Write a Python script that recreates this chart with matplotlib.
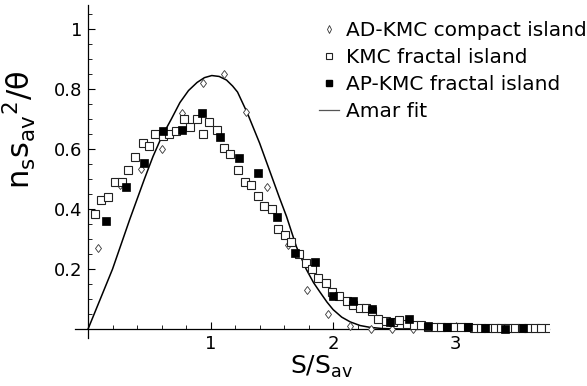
import matplotlib
matplotlib.use("Agg")
import matplotlib.pyplot as plt
from matplotlib.ticker import MultipleLocator, FixedLocator
from matplotlib.lines import Line2D

# AD-KMC compact island (open diamonds)
ad_x = [0.08, 0.26, 0.43, 0.60, 0.77, 0.94, 1.11, 1.29, 1.46, 1.63, 1.79, 1.96,
        2.14, 2.31, 2.48, 2.65]
ad_y = [0.27, 0.48, 0.535, 0.60, 0.72, 0.82, 0.85, 0.725, 0.475, 0.28, 0.13, 0.05,
        0.012, 0.002, 0.002, 0.002]

# KMC fractal island (open squares)
kmc_x = [0.057, 0.11, 0.16, 0.22, 0.28, 0.33, 0.38, 0.45, 0.50, 0.55, 0.61, 0.66,
         0.72, 0.78, 0.83, 0.89, 0.94, 0.99, 1.05, 1.11, 1.16, 1.22, 1.28, 1.33,
         1.39, 1.44, 1.50, 1.55, 1.61, 1.66, 1.72, 1.78, 1.83, 1.88, 1.94, 1.99,
         2.05, 2.11, 2.16, 2.22, 2.27, 2.32, 2.37, 2.43, 2.49, 2.54, 2.60, 2.66,
         2.72, 2.77, 2.83, 2.88, 2.93, 2.99, 3.04, 3.10, 3.15, 3.21, 3.26, 3.32,
         3.37, 3.43, 3.48, 3.54, 3.59, 3.65, 3.70, 3.76]
kmc_y = [0.385, 0.43, 0.44, 0.49, 0.49, 0.53, 0.575, 0.62, 0.61, 0.65, 0.645, 0.65,
         0.66, 0.70, 0.675, 0.70, 0.65, 0.69, 0.665, 0.605, 0.585, 0.53, 0.49, 0.48,
         0.445, 0.41, 0.40, 0.335, 0.315, 0.29, 0.25, 0.22, 0.20, 0.17, 0.155, 0.125,
         0.11, 0.095, 0.08, 0.07, 0.07, 0.06, 0.035, 0.028, 0.024, 0.03, 0.018, 0.014,
         0.013, 0.008, 0.008, 0.008, 0.007, 0.007, 0.006, 0.006, 0.005, 0.005, 0.005, 0.004,
         0.004, 0.004, 0.003, 0.003, 0.003, 0.003, 0.003, 0.003]

# AP-KMC fractal island (filled squares)
ap_x = [0.15, 0.31, 0.46, 0.61, 0.77, 0.93, 1.08, 1.23, 1.39, 1.54, 1.69, 1.85,
        2.00, 2.16, 2.32, 2.46, 2.62, 2.77, 2.93, 3.10, 3.24, 3.40, 3.55]
ap_y = [0.36, 0.475, 0.555, 0.66, 0.665, 0.72, 0.64, 0.57, 0.52, 0.375, 0.255, 0.225,
        0.11, 0.095, 0.068, 0.025, 0.035, 0.01, 0.007, 0.006, 0.004, 0.002, 0.003]

# Amar fit
fit_x = [0.0, 0.10, 0.20, 0.34, 0.46, 0.53, 0.60, 0.68, 0.75, 0.82, 0.89, 0.95,
         1.01, 1.07, 1.13, 1.18, 1.22, 1.30, 1.40, 1.48, 1.56, 1.62, 1.70, 1.78,
         1.84, 1.89, 1.95, 2.00, 2.07, 2.14, 2.22, 2.30, 2.40, 2.60, 3.00, 3.76]
fit_y = [0.0, 0.10, 0.20, 0.365, 0.50, 0.575, 0.64, 0.70, 0.755, 0.795, 0.822, 0.838,
         0.845, 0.842, 0.83, 0.81, 0.79, 0.72, 0.62, 0.53, 0.44, 0.375, 0.275, 0.20,
         0.155, 0.125, 0.09, 0.065, 0.04, 0.024, 0.012, 0.006, 0.002, 0.0, 0.0, 0.0]

y_ticks = [0.2, 0.4, 0.6, 0.8, 1.0]
y_labels = ["0.2", "0.4", "0.6", "0.8", "1"]
x_ticks = [1, 2, 3]
x_labels = ["1", "2", "3"]
legend_labels = ["AD-KMC compact island", "KMC fractal island",
                 "AP-KMC fractal island", "Amar fit"]


def main():
    fig = plt.figure(figsize=(5.87, 3.86), dpi=100)
    ax = fig.add_axes([0.128, 0.124, 0.807, 0.863])

    ax.plot(fit_x, fit_y, color="black", lw=1.1, zorder=2)
    ax.plot(ad_x, ad_y, ls="none", marker="d", ms=4.5, mfc="white",
            mec="#333333", mew=0.6, zorder=3)
    ax.plot(kmc_x, kmc_y, ls="none", marker="s", ms=5.2, mfc="white",
            mec="#222222", mew=0.8, zorder=4)
    ax.plot(ap_x, ap_y, ls="none", marker="s", ms=5.2, mfc="black",
            mec="black", mew=0.5, zorder=5)

    ax.set_xlim(-0.105, 3.76)
    ax.set_ylim(-0.03, 1.08)

    for s in ["top", "right"]:
        ax.spines[s].set_visible(False)
    ax.spines["left"].set_position(("data", 0))
    ax.spines["bottom"].set_position(("data", 0))
    ax.spines["left"].set_linewidth(0.9)
    ax.spines["bottom"].set_linewidth(0.9)

    ax.xaxis.set_major_locator(FixedLocator(x_ticks))
    ax.set_xticklabels(x_labels)
    ax.xaxis.set_minor_locator(MultipleLocator(0.2))
    ax.yaxis.set_major_locator(FixedLocator(y_ticks))
    ax.set_yticklabels(y_labels)
    ax.yaxis.set_minor_locator(MultipleLocator(0.05))
    ax.tick_params(which="major", direction="in", length=5, width=0.8,
                   labelsize=13, pad=4)
    ax.tick_params(which="minor", direction="in", length=3, width=0.6)

    ax.set_ylabel(r"$\mathregular{n_s s_{av}{}^2/\theta}$", fontsize=22)
    ax.yaxis.set_label_coords(-0.078, 0.625)
    ax.set_xlabel(r"$\mathregular{S/S_{av}}$", fontsize=18)
    ax.xaxis.set_label_coords(0.521, -0.047)

    handles = [
        Line2D([], [], ls="none", marker="d", ms=4, mfc="white", mec="#333333", mew=0.6),
        Line2D([], [], ls="none", marker="s", ms=5, mfc="white", mec="#222222", mew=0.8),
        Line2D([], [], ls="none", marker="s", ms=5, mfc="black", mec="black"),
        Line2D([], [], color="#555555", lw=0.9),
    ]
    ax.legend(handles, legend_labels, loc="upper left", bbox_to_anchor=(0.515, 0.952),
              frameon=False, fontsize=14.5, handlelength=1.0, handletextpad=0.35,
              labelspacing=0.4, borderaxespad=0, borderpad=0)

    fig.savefig("out.png", dpi=100)


if __name__ == "__main__":
    main()
